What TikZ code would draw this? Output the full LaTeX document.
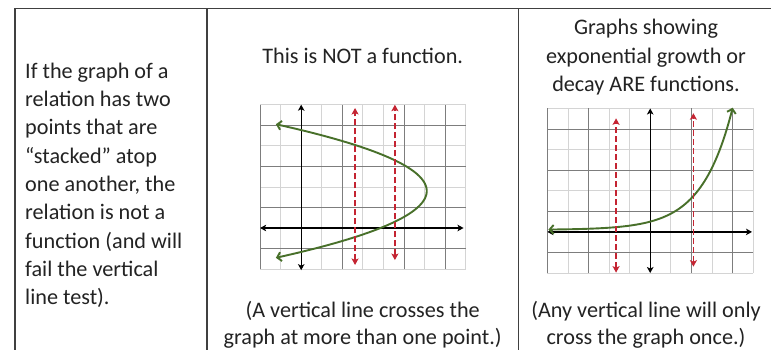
\documentclass[tikz,border=0pt]{standalone}
\usepackage{fontspec}
\setmainfont{Carlito}
\usetikzlibrary{arrows.meta}
\definecolor{curvegreen}{RGB}{72,112,42}
\definecolor{testred}{RGB}{196,36,50}
\definecolor{gridlight}{RGB}{212,212,212}
\definecolor{griddark}{RGB}{125,125,125}
\definecolor{inkgray}{RGB}{35,35,35}
\begin{document}
\begin{tikzpicture}[x=1pt,y=-1pt,
  txt/.style={font=\fontsize{22.2}{28.3}\selectfont, inner sep=0pt, text=inkgray},
  tableline/.style={draw=black!75, line width=1.2pt},
  glight/.style={draw=gridlight, line width=0.8pt},
  gdark/.style={draw=griddark, line width=0.8pt},
  axisline/.style={draw=black, line width=1.4pt, {Stealth[length=6pt,width=6.5pt,inset=1.5pt]}-{Stealth[length=6pt,width=6.5pt,inset=1.5pt]}},
  curveline/.style={draw=curvegreen, line width=1.9pt, {Straight Barb[length=4pt,width=9pt]}-{Straight Barb[length=4pt,width=9pt]}},
  testline/.style={draw=testred, line width=1.8pt, dash pattern=on 6pt off 3pt, {Stealth[length=6.5pt,width=7pt,inset=1.5pt]}-{Stealth[length=6.5pt,width=7pt,inset=1.5pt]}}
]
\useasboundingbox (0,0) rectangle (771,350);
\fill[white] (0,0) rectangle (771,350);

% table rules
\draw[tableline] (15,8.5) -- (771,8.5);
\draw[tableline] (15,8.5) -- (15,350);
\draw[tableline] (207,8.5) -- (207,350);
\draw[tableline] (518.5,8.5) -- (518.5,350);

% column 1
\node[txt, anchor=base west] (l1) at (25,78.3) {If the graph of a};
\node[txt, anchor=base west] (l2) at (25,106.6) {relation has two};
\node[txt, anchor=base west] (l3) at (25,134.9) {points that are};
\node[txt, anchor=base west] (l4) at (25,163.2) {“stacked” atop};
\node[txt, anchor=base west] (l5) at (25,191.5) {one another, the};
\node[txt, anchor=base west] (l6) at (25,219.8) {relation is not a};
\node[txt, anchor=base west] (l7) at (25,248.1) {function (and will};
\node[txt, anchor=base west] (l8) at (25,276.4) {fail the vertical};
\node[txt, anchor=base west] (l9) at (25,304.7) {line test).};

% column 2
\node[txt, anchor=base] (m1) at (362.7,63.3) {This is NOT a function.};
\node[txt, anchor=base] (m2) at (362.7,317) {(A vertical line crosses the};
\node[txt, anchor=base] (m3) at (362.7,344.5) {graph at more than one point.)};

% column 3
\node[txt, anchor=base] (r1) at (646,35) {Graphs showing};
\node[txt, anchor=base] (r2) at (646,63.3) {exponential growth or};
\node[txt, anchor=base] (r3) at (646,91.6) {decay ARE functions.};
\node[txt, anchor=base] (r4) at (646,317) {(Any vertical line will only};
\node[txt, anchor=base] (r5) at (646,344.5) {cross the graph once.)};

% graph 1: parabola (not a function)
\begin{scope}[shift={(301.2pt,-228pt)}, x=20.55pt, y=20.55pt]
  \foreach \k in {-2,2,4,6} \draw[glight] (-2,\k) -- (8,\k);
  \foreach \k in {-1,1,3,4,6,8} \draw[glight] (\k,-2) -- (\k,6);
  \foreach \k in {-1,1,3,5} \draw[gdark] (-2,\k) -- (8,\k);
  \foreach \k in {-2,2,5,7} \draw[gdark] (\k,-2) -- (\k,6);
  \coordinate (ax1l) at (-2,0);
  \coordinate (ax1r) at (7.9,0);
  \coordinate (ay1b) at (0,-2.05);
  \coordinate (ay1t) at (0,6);
  \draw[axisline] (ax1l) -- (ax1r);
  \draw[axisline] (ay1b) -- (ay1t);
  \draw[curveline, variable=\t, domain=-1.45:5.05, samples=60, smooth]
    plot ({6.11-0.695*(\t-1.8)*(\t-1.8)}, \t);
  \coordinate (v1b) at (2.62,-1.8);
  \coordinate (v1t) at (2.62,5.84);
  \coordinate (v2b) at (4.56,-1.56);
  \coordinate (v2t) at (4.56,6.0);
  \draw[testline] (v1b) -- (v1t);
  \draw[testline] (v2b) -- (v2t);
\end{scope}

% graph 2: exponential (a function)
\begin{scope}[shift={(650.2pt,-231.9pt)}, x=20.57pt, y=20.57pt]
  \foreach \k in {-2,2,4,6} \draw[glight] (-5,\k) -- (5,\k);
  \foreach \k in {-4,-2,-1,1,3,5} \draw[glight] (\k,-2) -- (\k,6);
  \foreach \k in {-1,1,3,5} \draw[gdark] (-5,\k) -- (5,\k);
  \foreach \k in {-5,-3,2,4} \draw[gdark] (\k,-2) -- (\k,6);
  \coordinate (ax2l) at (-5,0);
  \coordinate (ax2r) at (4.95,0);
  \coordinate (ay2b) at (0,-2);
  \coordinate (ay2t) at (0,6);
  \draw[axisline] (ax2l) -- (ax2r);
  \draw[axisline] (ay2b) -- (ay2t);
  \draw[curveline, domain=-4.95:4.01, samples=80, smooth]
    plot (\x, {0.1+0.4*pow(1.96,\x)});
  \coordinate (w1b) at (-1.66,-1.98);
  \coordinate (w1t) at (-1.66,5.52);
  \coordinate (w2b) at (2.1,-1.69);
  \coordinate (w2t) at (2.1,5.77);
  \draw[testline] (w1b) -- (w1t);
  \draw[testline] (w2b) -- (w2t);
\end{scope}
\end{tikzpicture}
\end{document}
